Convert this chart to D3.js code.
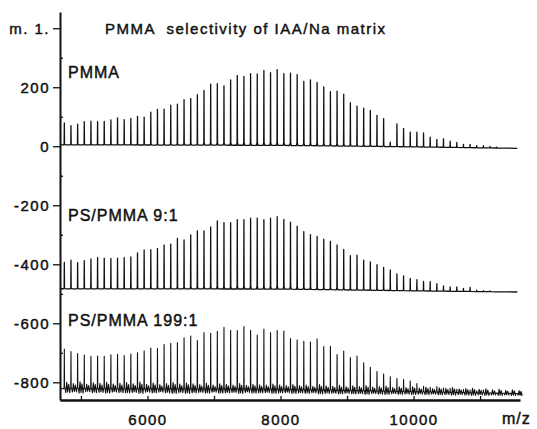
<!DOCTYPE html>
<html lang="en">
<head>
<meta charset="UTF-8">
<title>PMMA selectivity of IAA/Na matrix</title>
<script src="https://cdn.jsdelivr.net/npm/d3@7"></script>
<style>
  body { margin: 0; background: #fff; }
  text { font-family: "Liberation Sans", Arial, sans-serif; fill: #111; stroke: #111; stroke-width: 0.45px; }
  .axis text { font-size: 15px; letter-spacing: 1.5px; fill: #111; }
  .axis .domain { stroke: #111; stroke-width: 2; }
  .axis line { stroke: #111; stroke-width: 1.3; }
  .trace { fill: none; stroke: #111; stroke-width: 1.3; stroke-linejoin: round; }
  .trace.noisy { stroke-width: 1.1; }
  .label { font-size: 16px; letter-spacing: 1px; }
</style>
</head>
<body>
<svg width="537" height="429"></svg>
<script>
// peaks are every PMMA repeat unit (100 Da), first one at m/z 4750
const firstPeak = 4750, repeatUnit = 100;

// peak heights above each trace's baseline (m. 1.)
const pmma = [74,65,70,79,80,79,80,85,92,86, 90,97,94,111,121,122,135,139,154,158,
  171,186,207,209,201,221,237,233,243,242, 254,246,257,243,245,240,218,223,215,200,
  184,186,176,147,136,129,122,105,94,15, 77,62,50,50,48,34,26,29,21,17, 11,11,7,7,5,3];

const ps9 = [89,97,89,95,101,106,104,103,104,106, 108,122,132,133,137,149,152,171,166,183,
  197,197,210,231,225,225,235,235,240,240, 235,240,245,236,227,214,196,186,180,171,
  164,152,137,116,118,102,96,87,78,70, 57,50,42,38,32,32,25,18,15,15, 10,14,5,3,3,0];

const ps199 = [135,126,120,115,111,112,111,116,118,114, 119,123,130,140,138,152,156,159,175,181,
  166,193,191,198,211,201,201,214,202,186, 206,194,201,200,175,170,166,164,175,149,
  150,123,135,113,118,96,81,67,59,50, 44,41,36,28,19,16,19,14,14,11, 10,9,7,10,0,0];

// baseline noise between peaks of the 199:1 trace
const noise199 = [22,18,24,16,21,19,23,17,20,22, 18,24,17,21,16,20,23,18,22,19,
  17,21,15,20,18,16,21,15,19,17, 16,20,17,15,19,16,18,14,20,16,
  15,18,14,17,15,19,14,16,18,13, 16,14,17,13,16,12,15,13,16,12,
  14,15,12,14,11,13,10,12,10];

// baseline drift of each trace (m/z anchors, m. 1.)
const baseMz = [4690, 8000, 10000, 11560];
const base1 = [5, 3, -2, -7];
const base2 = [-483, -484, -490, -494];
const base3 = [-822, -826, -832, -838];

const seriesLabels = ["PMMA", "PS/PMMA 9:1", "PS/PMMA 199:1"];
const labelLevels = [230, -255, -610];
const yTicks = [-800, -600, -400, -200, 0, 200, 400];
const yMinor = [-700, -500, -300, -100, 100, 300];
const xTicks = [6000, 8000, 10000];
const xMinor = [5000, 6000, 7000, 8000, 9000, 10000, 11000];

const svg = d3.select("svg");
const plot = { left: 60, right: 520, top: 12, bottom: 400 };

const x = d3.scaleLinear().domain([4685, 11600]).range([plot.left, plot.right]);
const y = d3.scaleLinear().domain([-860, 455]).range([plot.bottom, plot.top]);

function tracePoints(heights, baseVals, noise) {
  const b = d3.scaleLinear().domain(baseMz).range(baseVals);
  const pts = [[baseMz[0], b(baseMz[0])]];
  const nGaps = noise ? noise.length : heights.length;
  for (let i = 0; i < nGaps; i++) {
    const m = firstPeak + i * repeatUnit;
    const bm = b(m);
    const h = i < heights.length ? heights[i] : 0;
    pts.push([m - 12, bm], [m - 3, bm + h * 0.04], [m, bm + h], [m + 3, bm + h * 0.04], [m + 12, bm]);
    if (noise) {
      const n = noise[i];
      pts.push([m + 22, bm - 0.6 * n], [m + 36, bm + n], [m + 50, bm - 0.5 * n],
               [m + 66, bm + 0.7 * n], [m + 82, bm - 0.6 * n]);
    }
  }
  const end = baseMz[baseMz.length - 1];
  pts.push([end, b(end)]);
  return pts;
}

const line = d3.line().x(d => x(d[0])).y(d => y(d[1]));

[[pmma, base1, null], [ps9, base2, null], [ps199, base3, noise199]].forEach(s => {
  svg.append("path")
    .attr("class", s[2] ? "trace noisy" : "trace")
    .attr("d", line(tracePoints(s[0], s[1], s[2])));
});

// y axis
svg.append("g")
  .attr("class", "axis")
  .attr("transform", `translate(${plot.left},0)`)
  .call(d3.axisLeft(y).tickValues(yTicks).tickSize(7).tickPadding(3).tickSizeOuter(0)
    .tickFormat(d => d === 400 ? "m. 1." : String(d)));

svg.append("g")
  .attr("class", "axis")
  .attr("transform", `translate(${plot.left},0)`)
  .call(d3.axisLeft(y).tickValues(yMinor).tickSize(-3).tickSizeOuter(0).tickFormat(""))
  .select(".domain").remove();

// x axis
const xa = svg.append("g")
  .attr("class", "axis")
  .attr("transform", `translate(0,${plot.bottom})`)
  .call(d3.axisBottom(x).tickValues(xTicks).tickSize(0).tickPadding(14).tickSizeOuter(0)
    .tickFormat(d => String(d)));
xa.select(".domain").style("stroke-width", 2.5);

svg.append("g")
  .attr("class", "axis")
  .attr("transform", `translate(0,${plot.bottom})`)
  .call(d3.axisBottom(x).tickValues(xMinor).tickSize(-4).tickSizeOuter(0).tickFormat(""))
  .select(".domain").remove();

svg.append("text")
  .attr("class", "label")
  .attr("x", 502)
  .attr("y", 424)
  .text("m/z");

// title
svg.append("text")
  .attr("class", "label")
  .attr("x", 105)
  .attr("y", y(380))
  .style("font-size", "15px")
  .style("white-space", "pre")
  .attr("textLength", 281)
  .attr("lengthAdjust", "spacing")
  .text("PMMA  selectivity of IAA/Na matrix");

// series labels
svg.selectAll(".series-label")
  .data(seriesLabels)
  .enter().append("text")
  .attr("class", "label series-label")
  .attr("x", 68)
  .attr("y", (d, i) => y(labelLevels[i]))
  .text(d => d);
</script>
</body>
</html>
